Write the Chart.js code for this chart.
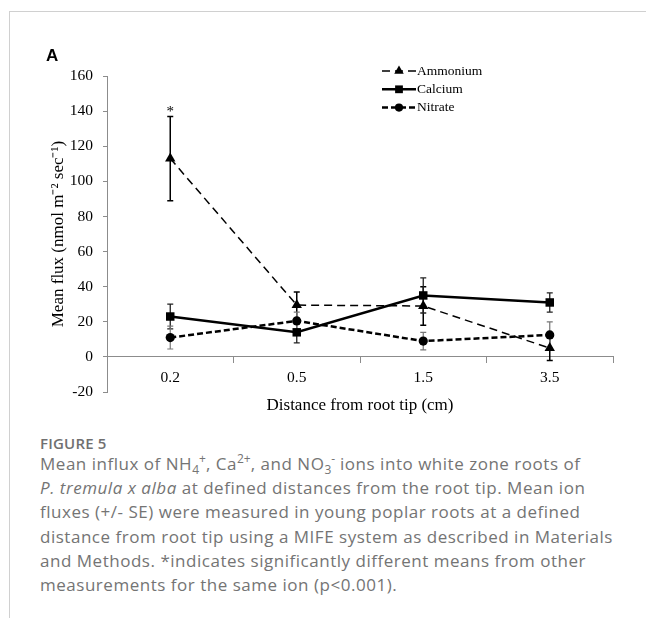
<!DOCTYPE html>
<html>
<head>
<meta charset="utf-8">
<script src="https://cdn.jsdelivr.net/npm/chart.js@4.4.1/dist/chart.umd.min.js"></script>
<style>
  html, body { margin: 0; padding: 0; background: #fff; }
  body { width: 646px; height: 618px; position: relative; overflow: hidden; }
  .frame { position: absolute; left: 9px; top: 11px; right: -5px; bottom: -5px;
           border-top: 1px solid #d0d0d0; border-left: 1px solid #d0d0d0; }
  .panel { position: absolute; left: 46px; top: 46px; line-height: 17px;
           font: bold 17px "Liberation Sans", Arial, sans-serif; color: #000; }
  #wrap { position: absolute; left: 0; top: 0; width: 646px; height: 430px; }
  .caption { position: absolute; left: 40px; top: 434px; font-family: "Open Sans", sans-serif; color: #747474; white-space: nowrap; }
  .caption .fig { font-size: 15px; line-height: 18px; font-weight: 600; color: #707070; letter-spacing: 0.2px; }
  .caption p { margin: 0; font-size: 17px; line-height: 24.2px; letter-spacing: 0.52px; }
  .caption sub, .caption sup { font-size: 12px; line-height: 0; letter-spacing: 0; }
</style>
</head>
<body>
<div class="frame"></div>
<div id="wrap"><canvas id="fluxChart" width="646" height="430"></canvas></div>
<div class="panel">A</div>
<div class="caption">
  <div class="fig">FIGURE 5</div>
  <p>Mean influx of NH<sub>4</sub><sup>+</sup>, Ca<sup>2+</sup>, and NO<sub>3</sub><sup>-</sup> ions into white zone roots of<br>
  <i>P. tremula x alba</i> at defined distances from the root tip. Mean ion<br>
  fluxes (+/- SE) were measured in young poplar roots at a defined<br>
  distance from root tip using a MIFE system as described in Materials<br>
  and Methods. *indicates significantly different means from other<br>
  measurements for the same ion (p&lt;0.001).</p>
</div>
<script>
// values
const distances = ['0.2', '0.5', '1.5', '3.5'];

const ammonium = [113, 29.5, 29, 5];
const ammoniumSE = [24, 7.5, 11, 7];
const ammoniumMarks = ['*', '', '', ''];

const calcium = [23, 14, 35, 31];
const calciumSE = [7, 6, 10, 5.5];

const nitrate = [11, 20.5, 9, 12.5];
const nitrateSE = [6.5, 5, 5, 7.5];

const yMin = -20, yMax = 160, yStep = 20;

const serif = '"Liberation Serif", "Times New Roman", serif';

// error bars + significance marks, drawn from the data through the y scale
const errorBars = {
  id: 'errorBars',
  beforeDatasetsDraw(chart) {
    const ctx = chart.ctx;
    const y = chart.scales.y;
    chart.data.datasets.forEach((ds, i) => {
      const meta = chart.getDatasetMeta(i);
      meta.data.forEach((pt, j) => {
        const v = ds.data[j], e = ds.se[j];
        const top = y.getPixelForValue(v + e);
        const bot = y.getPixelForValue(v - e);
        ctx.save();
        ctx.strokeStyle = ds.errColor;
        ctx.lineWidth = ds.errWidth;
        ctx.beginPath();
        ctx.moveTo(pt.x, top); ctx.lineTo(pt.x, bot);
        ctx.moveTo(pt.x - 3, top); ctx.lineTo(pt.x + 3, top);
        ctx.moveTo(pt.x - 3, bot); ctx.lineTo(pt.x + 3, bot);
        ctx.stroke();
        ctx.restore();
      });
    });
  },
  afterDatasetsDraw(chart) {
    const ctx = chart.ctx;
    const y = chart.scales.y;
    chart.data.datasets.forEach((ds, i) => {
      if (!ds.marks) return;
      const meta = chart.getDatasetMeta(i);
      meta.data.forEach((pt, j) => {
        if (!ds.marks[j]) return;
        ctx.save();
        ctx.fillStyle = '#000';
        ctx.font = '15px ' + serif;
        ctx.textAlign = 'center';
        ctx.textBaseline = 'middle';
        ctx.fillText(ds.marks[j], pt.x, y.getPixelForValue(ds.data[j] + ds.se[j]) - 4);
        ctx.restore();
      });
    });
  }
};

// excel style legend: line sample with the marker in the middle
const lineLegend = {
  id: 'lineLegend',
  afterDraw(chart, args, opts) {
    const ctx = chart.ctx;
    chart.data.datasets.forEach((ds, i) => {
      const ry = opts.y + i * opts.rowGap;
      ctx.save();
      ctx.strokeStyle = ds.borderColor;
      ctx.lineWidth = ds.borderWidth;
      ctx.setLineDash(ds.borderDash || []);
      ctx.beginPath();
      ctx.moveTo(opts.x, ry);
      ctx.lineTo(opts.x + opts.sample, ry);
      ctx.stroke();
      ctx.setLineDash([]);
      ctx.fillStyle = ds.backgroundColor;
      Chart.helpers.drawPoint(ctx, { pointStyle: ds.pointStyle, radius: ds.pointRadius - 0.5, rotation: 0, borderWidth: 0 },
        opts.x + opts.sample / 2, ry);
      ctx.fillStyle = '#000';
      ctx.font = '13.5px ' + serif;
      ctx.textBaseline = 'middle';
      ctx.fillText(ds.label, opts.x + opts.sample + 1, ry);
      ctx.restore();
    });
  }
};

new Chart(document.getElementById('fluxChart'), {
  type: 'line',
  data: {
    labels: distances,
    datasets: [
      {
        label: 'Ammonium', data: ammonium, se: ammoniumSE, marks: ammoniumMarks,
        borderColor: '#000', backgroundColor: '#000', borderWidth: 1.5, borderDash: [8, 5],
        pointStyle: 'triangle', pointRadius: 6, pointBorderWidth: 0,
        errColor: '#000', errWidth: 1.5
      },
      {
        label: 'Calcium', data: calcium, se: calciumSE,
        borderColor: '#000', backgroundColor: '#000', borderWidth: 2.5,
        pointStyle: 'rect', pointRadius: 6, pointBorderWidth: 0,
        errColor: '#222', errWidth: 1.3
      },
      {
        label: 'Nitrate', data: nitrate, se: nitrateSE,
        borderColor: '#000', backgroundColor: '#000', borderWidth: 2.5, borderDash: [6, 3],
        pointStyle: 'circle', pointRadius: 4.6, pointBorderWidth: 0,
        errColor: '#777', errWidth: 1.2
      }
    ]
  },
  options: {
    responsive: false,
    animation: false,
    layout: { padding: { top: 76, right: 33, bottom: 38, left: 0 } },
    plugins: {
      legend: { display: false },
      tooltip: { enabled: false },
      lineLegend: { x: 382, y: 71, rowGap: 18.3, sample: 34 }
    },
    scales: {
      x: {
        type: 'category',
        position: { y: 0 },
        offset: true,
        grid: { drawOnChartArea: false, offset: true, tickLength: 6, color: '#8c8c8c' },
        border: { color: '#8c8c8c', width: 1 },
        ticks: { color: '#000', font: { family: serif, size: 15.5 }, padding: 6 },
        title: { display: true, text: 'Distance from root tip (cm)', color: '#000',
                 font: { family: serif, size: 17 }, padding: { top: 2, bottom: 0 } }
      },
      y: {
        min: yMin, max: yMax,
        ticks: { stepSize: yStep, color: '#000', font: { family: serif, size: 15.5 }, padding: 10 },
        grid: { drawOnChartArea: false, tickLength: 4, color: '#8c8c8c' },
        border: { color: '#8c8c8c', width: 1 },
        title: { display: true, text: 'Mean flux (nmol m\u207B\u00B2 sec\u207B\u00B9)', color: '#000',
                 font: { family: serif, size: 17 }, padding: { top: 48, bottom: 0 } },
        afterFit(scale) { scale.width = 107; }
      }
    }
  },
  plugins: [errorBars, lineLegend]
});
</script>
</body>
</html>
